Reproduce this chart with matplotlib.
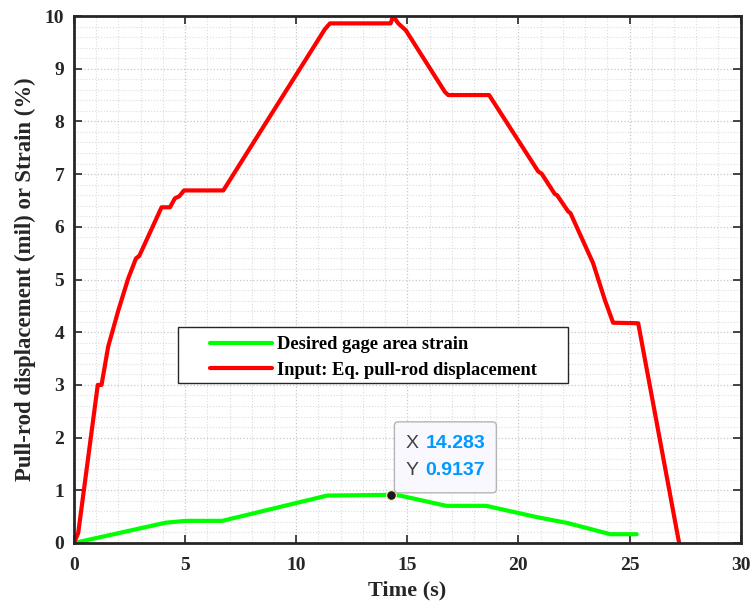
import numpy as np
import matplotlib
matplotlib.use('Agg')
import matplotlib.pyplot as plt
from matplotlib.patches import FancyBboxPatch, Rectangle
from matplotlib.ticker import MultipleLocator

# data
red_t = [0, 0.19, 1.07, 1.24, 1.54, 2.0, 2.44, 2.79, 2.94, 3.94, 4.32, 4.54, 4.74, 4.95,
         6.72, 11.29, 11.52, 14.25, 14.36, 14.59, 14.93, 16.69, 16.84, 18.68, 20.89,
         21.04, 21.64, 21.74, 22.24, 22.34, 23.36, 23.89, 24.26, 25.39, 27.23]
red_y = [0, 0.19, 3.0, 3.0, 3.73, 4.42, 5.02, 5.40, 5.45, 6.37, 6.37, 6.54, 6.58, 6.69,
         6.69, 9.75, 9.86, 9.86, 10.0, 9.86, 9.73, 8.56, 8.50, 8.50, 7.05,
         7.01, 6.62, 6.60, 6.29, 6.26, 5.31, 4.61, 4.18, 4.17, 0]

green_t = [0, 4.12, 5.02, 6.67, 11.39, 14.283, 14.67, 16.76, 18.55, 20.84, 22.2, 24.13, 25.32]
green_y = [0, 0.385, 0.42, 0.42, 0.90, 0.9137, 0.90, 0.705, 0.705, 0.49, 0.38, 0.167, 0.167]

tip_x, tip_y = 14.283, 0.9137

serif = ['Liberation Serif', 'DejaVu Serif']

fig = plt.figure(figsize=(7.55, 6.04), dpi=100)
ax = fig.add_axes([0.098, 0.101, 0.883, 0.8725])

ax.plot(green_t, green_y, color='#00ff00', lw=3, label='Desired gage area strain',
        solid_capstyle='round', solid_joinstyle='round')
ax.plot(red_t, red_y, color='#ff0000', lw=3, label='Input: Eq. pull-rod displacement',
        solid_capstyle='round', solid_joinstyle='round')

ax.set_xlim(0, 30)
ax.set_ylim(0, 10)
ax.xaxis.set_major_locator(MultipleLocator(5))
ax.xaxis.set_minor_locator(MultipleLocator(1))
ax.yaxis.set_major_locator(MultipleLocator(1))
ax.yaxis.set_minor_locator(MultipleLocator(0.2))
ax.grid(which='major', color='#c8c8c8', ls=':', lw=0.9)
ax.grid(which='minor', color='#dcdcdc', ls=':', lw=0.8)
ax.set_axisbelow(True)
ax.tick_params(which='major', direction='in', length=6, width=1.2, top=True, right=True,
               colors='#262626')
ax.tick_params(axis='x', which='major', pad=10)
ax.tick_params(axis='y', which='major', pad=7)
ax.tick_params(which='minor', length=0)
for s in ax.spines.values():
    s.set_linewidth(2)
    s.set_color('#262626')
for lab in ax.get_xticklabels() + ax.get_yticklabels():
    lab.set_fontfamily(serif)
    lab.set_fontweight('bold')
    lab.set_fontsize(14)
    lab.set_color('#262626')

ax.set_xlabel('Time (s)', family=serif, fontweight='bold', fontsize=16, color='#262626', labelpad=5)
ax.set_ylabel('Pull-rod displacement (mil) or Strain (%)', family=serif, fontweight='bold',
              fontsize=16.4, color='#262626', labelpad=6)

# legend: own frame so the wide side margins match
leg = ax.legend(loc='upper left', bbox_to_anchor=(0.2039, 0.392), frameon=False,
                prop={'family': serif, 'weight': 'bold', 'size': 13.3},
                handlelength=3.35, handletextpad=0.27, borderpad=0, labelspacing=0.45,
                borderaxespad=0)
leg.set_zorder(9)
ax.add_patch(Rectangle((0.156, 0.3036), 0.5846, 0.1063, transform=ax.transAxes,
                       facecolor='white', edgecolor='#262626', lw=1, zorder=8))

# cut-off title at the top edge
fig.text(0.003, 1 + 4.5 / 604, 'Applied load and strain (FEA simulation) profile', family=serif,
         fontsize=17, fontweight='bold', va='baseline', ha='left')

# data tip
ax.plot([tip_x], [tip_y], 'o', color='#1a1a1a', mec='#fff5c0', mew=0.8, ms=7, zorder=6)
fig.canvas.draw()
tx, ty = ax.transData.transform((tip_x, tip_y))
box = FancyBboxPatch((tx + 3, ty + 2), 102, 71, boxstyle='round,pad=0,rounding_size=4',
                     transform=None, facecolor='#f8f8fe', edgecolor='#b4b4b4', lw=1, zorder=7)
fig.patches.append(box)
for dy, name, val in [(51, 'X', '%.3f' % tip_x), (24, 'Y', '%.4f' % tip_y)]:
    fig.text(tx + 14, ty + dy, name, transform=None, family='Liberation Sans', fontsize=14,
             color='#404040', va='center', ha='left', zorder=8)
    fig.text(tx + 34, ty + dy, val, transform=None, family='Liberation Sans', fontsize=14,
             fontweight='bold', color='#0099ff', va='center', ha='left', zorder=8)

fig.savefig('out.png', dpi=100)
